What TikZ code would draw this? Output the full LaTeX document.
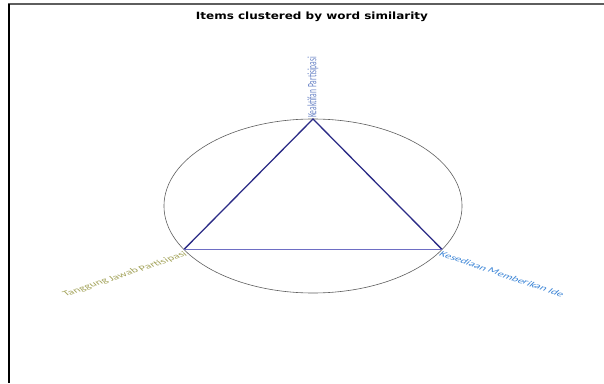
\documentclass[tikz,border=0pt]{standalone}
\usepackage{fontspec}
\setmainfont{Carlito}
\newfontfamily\titlefont{DejaVu Sans}
\usetikzlibrary{positioning}
\definecolor{Rim}{HTML}{5E5E5E}
\definecolor{Navy}{HTML}{2B2B86}
\definecolor{Lilac}{HTML}{6E6EC4}
\definecolor{Slate}{HTML}{6A84C6}
\definecolor{Olive}{HTML}{A3A35A}
\definecolor{Sky}{HTML}{3E86D6}
\tikzset{edge/.style={draw=Navy,line width=1.3pt},item/.style={font=\fontsize{7.5}{8}\selectfont,inner sep=1pt,transform shape}}
\begin{document}
\begin{tikzpicture}[x=1pt,y=1pt]
\useasboundingbox (0,0) rectangle (604,383);
\draw[Rim,line width=1.2pt] (8,379) -- (604,379);
\draw[black,line width=1.5pt] (9,379) -- (9,0);
\node[font=\titlefont\bfseries\fontsize{10}{11}\selectfont,xscale=1.2] (title) at (312,366) {Items clustered by word similarity};
\begin{scope}[shift={(313,177)},xscale=1.713]
\draw[Rim,line width=.6pt] (0,0) circle (87);
\coordinate (keaktifan) at (90:87);
\coordinate (tanggung) at (210:87);
\coordinate (kesediaan) at (330:87);
\draw[edge] (tanggung) -- (keaktifan) -- (kesediaan);
\draw[draw=Lilac,line width=.8pt] (tanggung) -- (kesediaan);
\node[item,text=Slate,rotate=90,anchor=west] (lblA) at (keaktifan) {Keaktifan Partisipasi};
\node[item,text=Olive,rotate=30,anchor=north east] (lblB) at (tanggung) {Tanggung Jawab Partisipasi};
\node[item,text=Sky,rotate=-30,anchor=north west] (lblC) at (kesediaan) {Kesediaan Memberikan Ide};
\end{scope}
\end{tikzpicture}
\end{document}
